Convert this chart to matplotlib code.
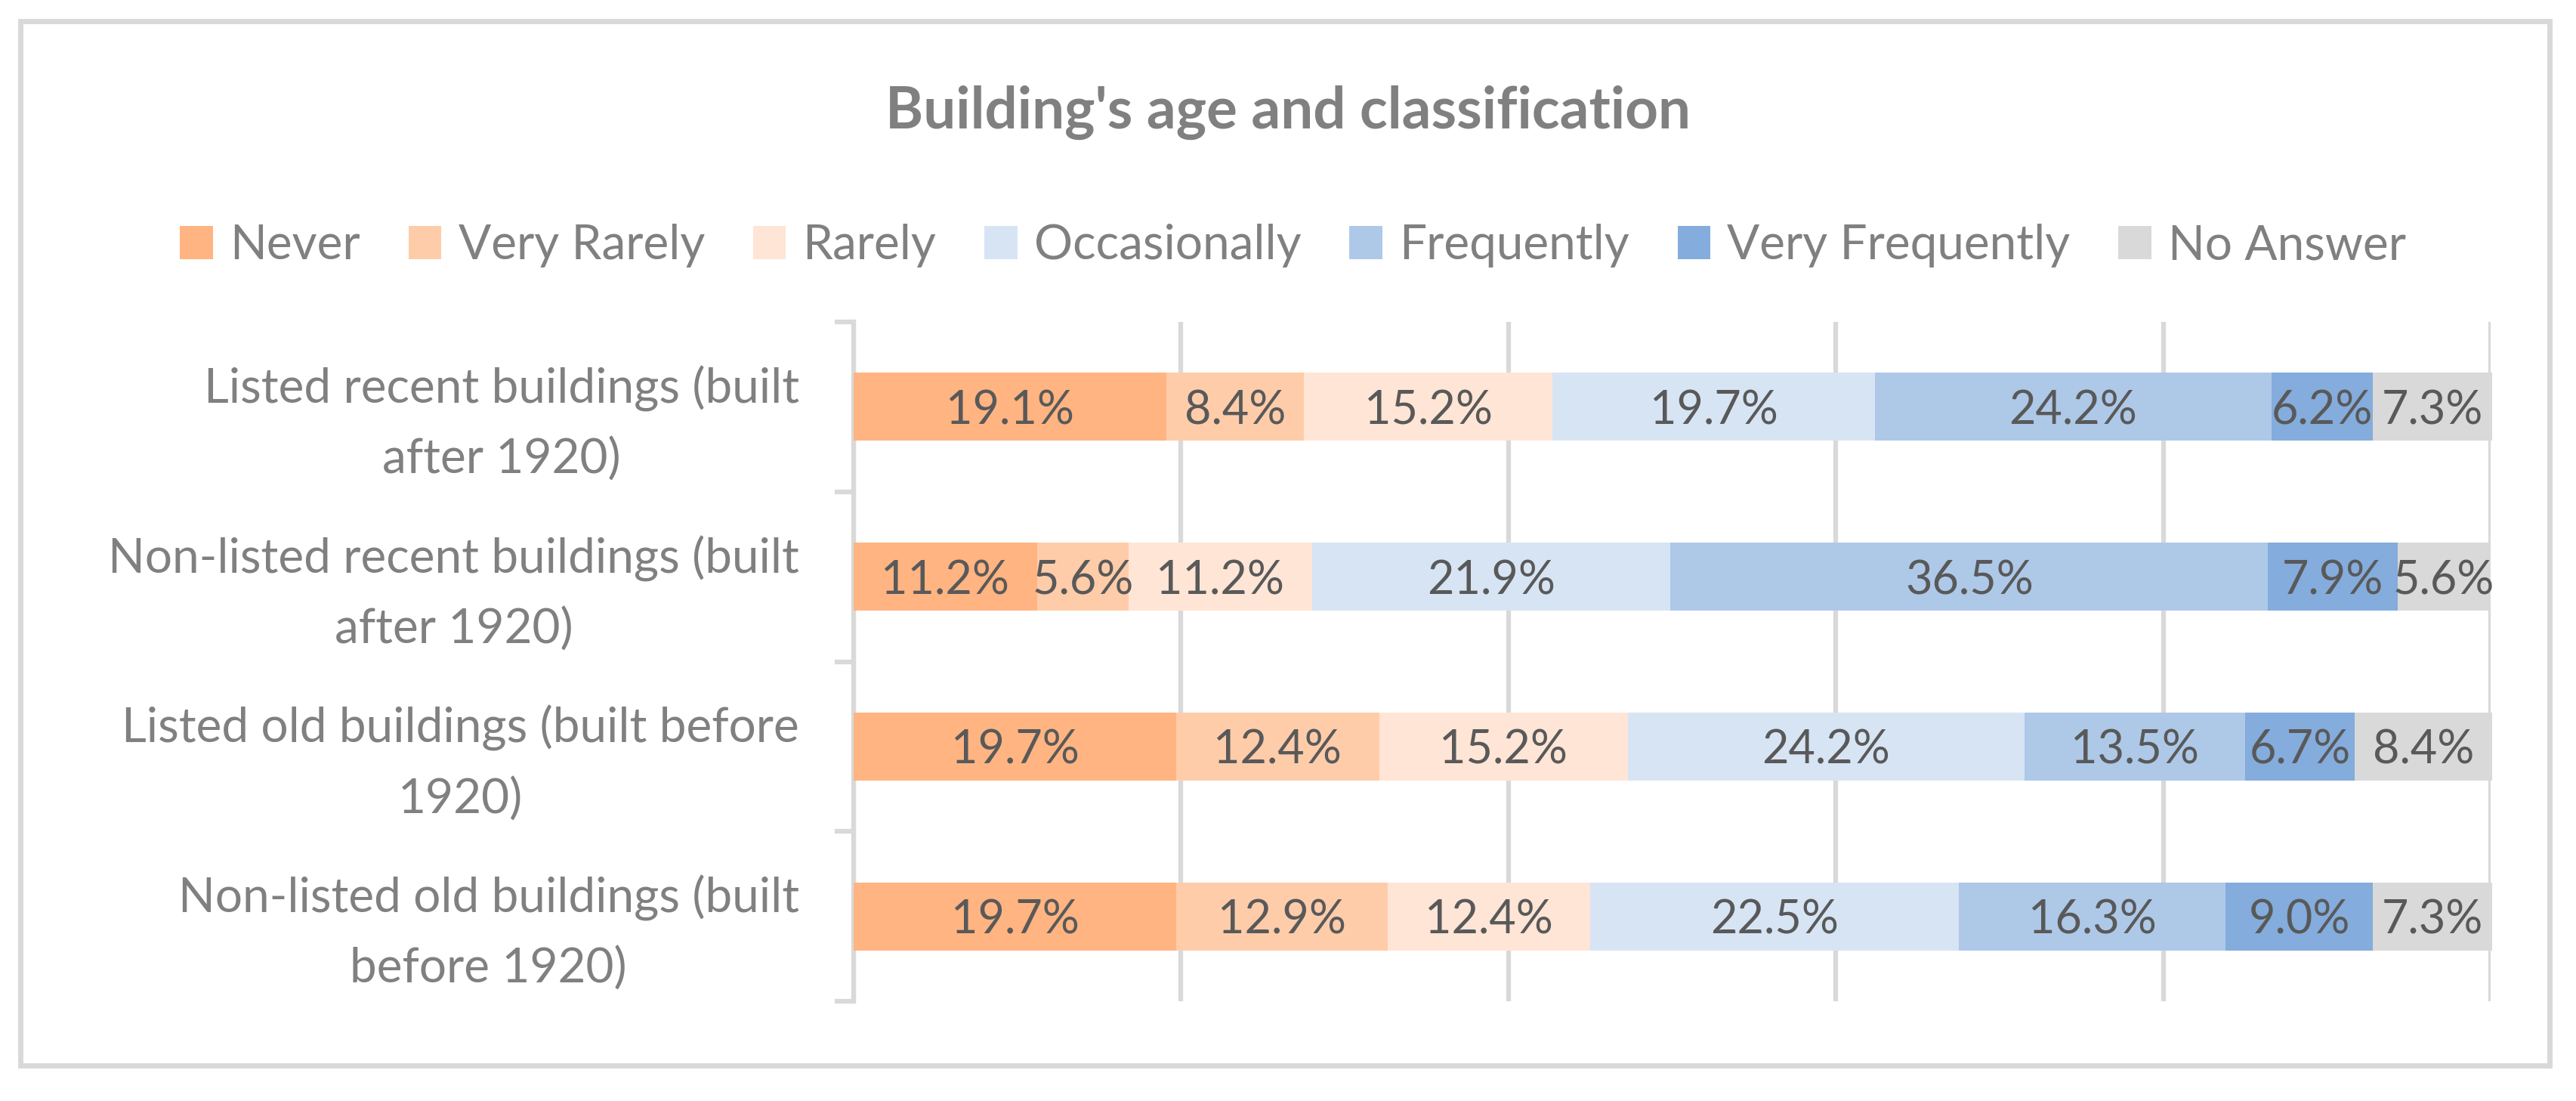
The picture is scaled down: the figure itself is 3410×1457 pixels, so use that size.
import numpy as np
import matplotlib
matplotlib.use("Agg")
import matplotlib.pyplot as plt
from matplotlib.patches import Patch, Rectangle

# ---------------------------------------------------------------
# data
# ---------------------------------------------------------------
categories = [
    "Listed recent buildings (built\nafter 1920)",
    "Non-listed recent buildings (built\nafter 1920)",
    "Listed old buildings (built before\n1920)",
    "Non-listed old buildings (built\nbefore 1920)",
]
series = ["Never", "Very Rarely", "Rarely", "Occasionally",
          "Frequently", "Very Frequently", "No Answer"]

never = [19.1, 11.2, 19.7, 19.7]
very_rarely = [8.4, 5.6, 12.4, 12.9]
rarely = [15.2, 11.2, 15.2, 12.4]
occasionally = [19.7, 21.9, 24.2, 22.5]
frequently = [24.2, 36.5, 13.5, 16.3]
very_frequently = [6.2, 7.9, 6.7, 9.0]
no_answer = [7.3, 5.6, 8.4, 7.3]

colors = ["#FFB482", "#FFCCAA", "#FFE5D6", "#D7E4F4",
          "#AEC8E8", "#84ACDC", "#D9D9D9"]

values = [never, very_rarely, rarely, occasionally,
          frequently, very_frequently, no_answer]

# ---------------------------------------------------------------
# figure
# ---------------------------------------------------------------
plt.rcParams["font.family"] = ["Lato", "DejaVu Sans"]
GRID = "#D9D9D9"
TXT = "#808080"
LBL = "#595959"

fig = plt.figure(figsize=(34.1, 14.57), dpi=100)
ax = fig.add_axes([0.3314, 0.0906, 0.6355, 0.617])

y = np.arange(len(categories))[::-1]
left = np.zeros(len(categories))
for name, vals, col in zip(series, values, colors):
    vals = np.array(vals)
    bars = ax.barh(y, vals, left=left, height=0.4, color=col,
                   label=name, zorder=3, clip_on=False)
    for b, v in zip(bars, vals):
        ax.text(b.get_x() + b.get_width() / 2, b.get_y() + b.get_height() / 2,
                f"{v:.1f}%", ha="center", va="center_baseline",
                fontsize=44, color=LBL, zorder=4)
    left += vals

ax.set_xlim(0, 100)
ax.set_ylim(-0.5, len(categories) - 0.5)

# vertical gridlines
ax.set_xticks(np.arange(0, 101, 20))
ax.xaxis.grid(True, color=GRID, linewidth=4.5, zorder=0)
ax.tick_params(axis="x", length=0, labelbottom=False)

# category boundary ticks + centred labels
ax.set_yticks(np.arange(-0.5, len(categories), 1.0))
ax.tick_params(axis="y", which="major", length=18, width=4.5,
               color=GRID, labelleft=False)
ax.set_yticks(y, categories, minor=True)
ax.tick_params(axis="y", which="minor", length=0, pad=52,
               labelsize=46, labelcolor=TXT)
for t in ax.get_yticklabels(minor=True):
    t.set_multialignment("center")
    t.set_linespacing(1.7)

for s in ["top", "right", "bottom"]:
    ax.spines[s].set_visible(False)
ax.spines["left"].set_color(GRID)
ax.spines["left"].set_linewidth(4.5)
ax.set_axisbelow(True)

# title and legend
fig.text(0.5, 1 - 170 / 1457, "Building's age and classification",
         ha="center", va="baseline", fontsize=55, fontweight="bold", color=TXT)

handles = [Patch(facecolor=c, edgecolor="none") for c in colors]
fig.legend(handles, series, loc="center", bbox_to_anchor=(0.502, 1 - 325 / 1457),
           ncol=7, frameon=False, fontsize=46, labelcolor=TXT,
           handlelength=0.68, handleheight=0.68, handletextpad=0.35,
           columnspacing=1.0, borderpad=0)

# outer chart frame
fig.patches.append(Rectangle((27 / 3410, 1 - 1410 / 1457),
                             (3375 - 27) / 3410, (1410 - 28) / 1457,
                             transform=fig.transFigure, fill=False,
                             edgecolor=GRID, linewidth=5))

fig.savefig("out.png", dpi=100, facecolor="white")
